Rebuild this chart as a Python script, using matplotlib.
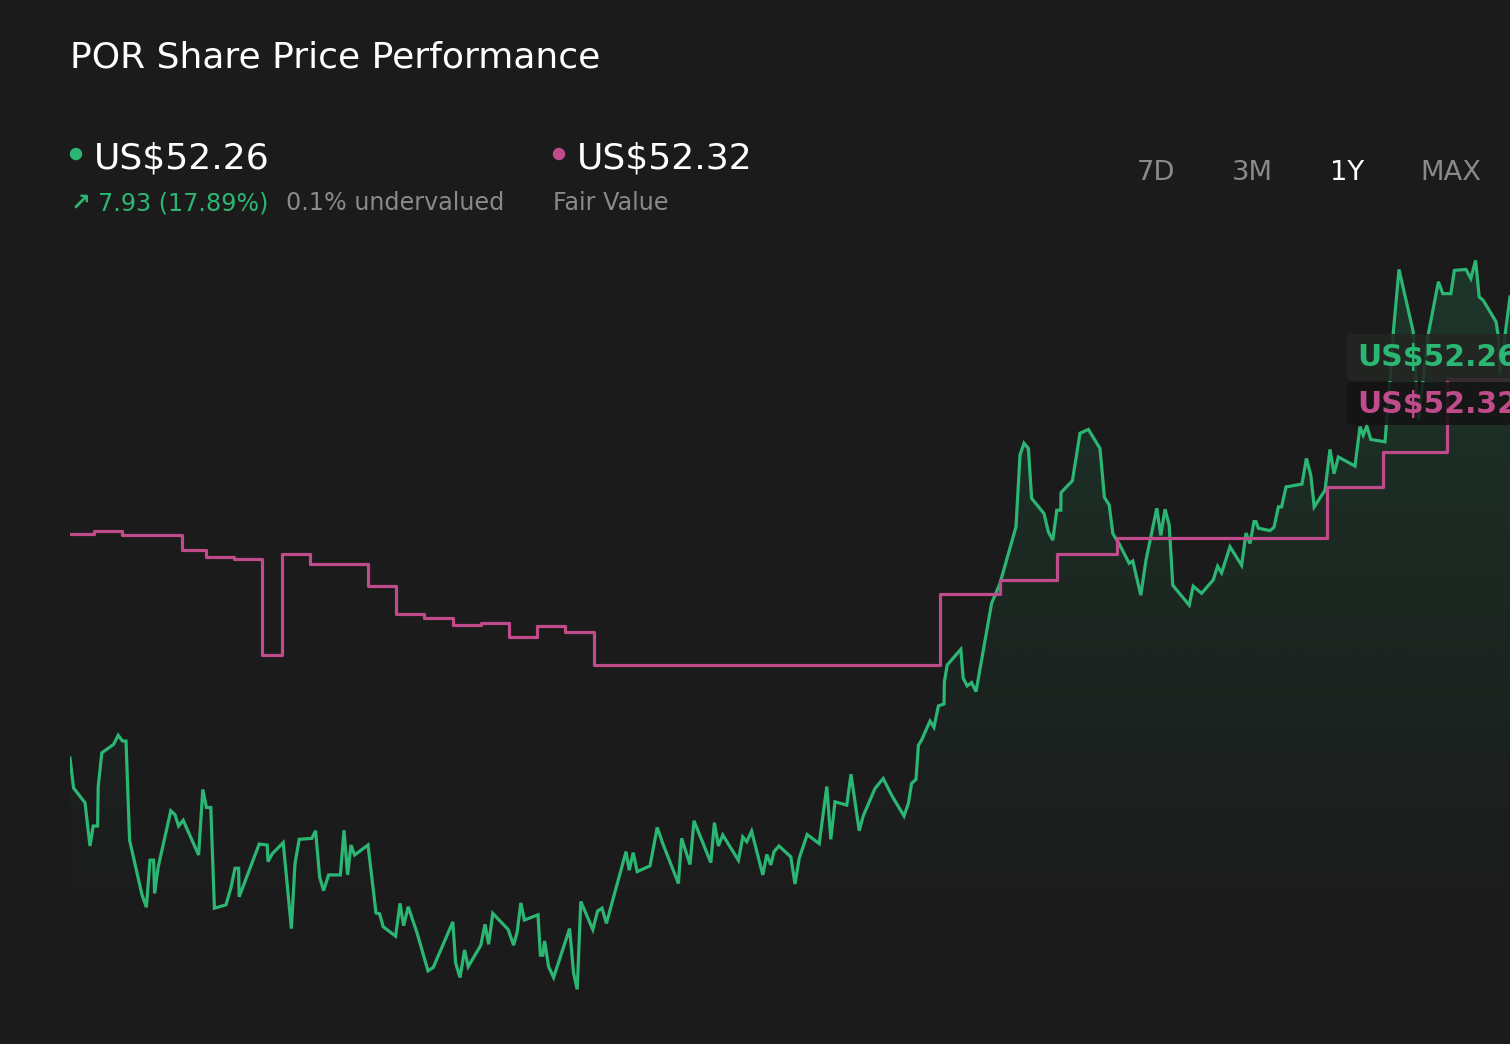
import matplotlib
matplotlib.use("Agg")
import matplotlib.pyplot as plt
import numpy as np
from matplotlib.patches import Circle, FancyBboxPatch

# share price (calendar days from start of the 1Y window, US$)
price_days = [
    0, 0.9, 3.75, 5, 5.8, 6.9, 7.05, 7.95, 10.9, 12.05, 13.1, 14, 14.9, 18, 19.1,
    20, 20.9, 21.15, 22.05, 25.2, 26.25, 27.15, 28.3, 32.15, 33.2, 34.1, 35.2,
    36.1, 39, 40.2, 41.25, 42.15, 42.3, 47.3, 49.3, 49.5, 50.6, 53.3, 55.35,
    56.25, 57.3, 60.45, 61.4, 62.4, 63.4, 64.65, 67.6, 68.5, 69.4, 70.25, 71.15,
    74.5, 76.5, 77.4, 78.3, 81.4, 82.5, 83.4, 84.55, 86.8, 89.5, 90.8, 95.7,
    96.4, 97.5, 98.65, 99.55, 102.7, 103.75, 104.65, 105.7, 109.55, 110.9,
    111.8, 112.7, 113.6, 117, 117.6, 118.2, 118.65, 119.65, 120.9, 124.9,
    125.9, 126.8, 127.7, 130.7, 131.9, 133, 134.1, 139, 139.8, 140.8, 141.8,
    145, 146.8, 148.2, 152.1, 152.9, 155, 156, 160.2, 161.1, 162.1, 163.2,
    167.1, 168.2, 169.2, 170.4, 173.2, 174.2, 175.2, 176, 177.25, 180.2,
    181.25, 182.3, 184.3, 187.3, 189.2, 190.2, 191.25, 194.2, 195.25, 197.3,
    198.3, 201.25, 203.3, 205.4, 208.5, 209.6, 210.4, 211.5, 212.1, 212.9,
    215, 216, 217.1, 218.5, 218.6, 219.3, 222.7, 223.3, 224.3, 225.4, 226.5,
    230.4, 232.5, 236.5, 237.5, 238.5, 239.6, 240.4, 243.5, 244.6, 245.7,
    246.7, 247.7, 247.75, 250.6, 252.5, 254.6, 257.5, 258.6, 259.8, 260.7,
    262.5, 264.8, 265.7, 267.7, 269, 271.7, 272.7, 273.75, 274.8, 275.7,
    279.8, 280.8, 282.9, 285.8, 286.9, 287.9, 290, 292.9, 294, 295, 296,
    296.5, 297.1, 300, 301, 302.1, 302.9, 304, 308, 309.1, 310.2, 311.05,
    313.75, 315, 316, 317.1, 321.25, 322.5, 323.3, 324.2, 325.2, 328.75, 330,
    330.8, 332.25, 335.8, 337.1, 339.6, 342.1, 343.2, 345.2, 346.1, 349,
    350.2, 351.4, 352.3, 353.3, 356.5, 357.1, 357.5, 360,
]
price_values = [
    44.33, 43.70, 43.39, 42.48, 42.90, 42.90, 43.73, 44.44, 44.62, 44.81,
    44.69, 44.69, 42.60, 41.45, 41.19, 42.18, 42.18, 41.48, 42.04, 43.22,
    43.14, 42.90, 43.02, 42.29, 43.67, 43.29, 43.29, 41.17, 41.24, 41.59,
    42.01, 42.01, 41.41, 42.52, 42.50, 42.15, 42.32, 42.55, 40.74, 42.11,
    42.62, 42.64, 42.80, 41.83, 41.54, 41.87, 41.87, 42.81, 41.87, 42.50,
    42.29, 42.50, 41.07, 41.05, 40.78, 40.58, 41.27, 40.80, 41.20, 40.64,
    39.85, 39.92, 40.88, 40.02, 39.71, 40.29, 39.94, 40.39, 40.83, 40.41,
    41.06, 40.72, 40.39, 40.67, 41.28, 40.92, 41.03, 40.18, 40.18, 40.48,
    39.94, 39.71, 40.74, 39.80, 39.46, 41.31, 40.72, 41.11, 41.17, 40.85,
    42.36, 41.97, 42.34, 41.94, 42.06, 42.87, 42.53, 41.69, 42.64, 42.09,
    43.01, 42.13, 42.97, 42.48, 42.71, 42.18, 42.67, 42.57, 42.79, 41.87,
    42.30, 42.08, 42.36, 42.48, 42.25, 41.68, 42.22, 42.72, 42.53, 43.73,
    42.62, 43.41, 43.34, 43.99, 42.80, 43.11, 43.69, 43.90, 43.55, 43.11,
    43.38, 43.80, 43.88, 44.60, 44.71, 45.11, 44.98, 45.43, 45.47, 45.94,
    46.29, 46.62, 46.01, 45.85, 45.92, 45.73, 47.59, 48.01, 49.20, 50.71,
    50.96, 50.85, 49.80, 49.48, 49.09, 48.92, 49.55, 49.55, 49.92, 50.17,
    51.17, 51.25, 50.85, 49.82, 49.66, 49.06, 48.81, 48.43, 48.48, 47.76,
    48.50, 49.59, 49.02, 49.57, 49.24, 47.97, 47.55, 47.95, 47.80, 48.08,
    48.37, 48.23, 48.78, 48.39, 49.07, 48.85, 49.31, 49.31, 49.17, 49.12,
    49.19, 49.62, 49.62, 50.04, 50.10, 50.64, 50.29, 49.62, 49.97, 50.83,
    50.32, 50.67, 50.48, 51.31, 51.13, 51.32, 51.04, 50.99, 52.29, 53.27,
    54.62, 53.31, 51.45, 53.27, 54.36, 54.11, 54.11, 54.60, 54.62, 54.43,
    54.81, 54.04, 53.97, 53.52, 53.20, 52.43, 54.04,
]

# fair value estimate (step changes)
fv_days = [0, 6, 13, 28, 34, 41, 48, 53, 60, 74.5, 81.5, 88.5, 95.75, 102.75,
           109.75, 116.75, 123.75, 131, 217.5, 232.5, 246.7, 261.7, 314.2,
           328.3, 344.2, 360]
fv_values = [49.04, 49.12, 49.02, 48.72, 48.56, 48.52, 46.51, 48.62, 48.41,
             47.96, 47.36, 47.27, 47.14, 47.18, 46.88, 47.12, 46.98, 46.30,
             47.78, 48.08, 48.62, 48.97, 50.03, 50.77, 52.32, 52.32]

last_price = "US$52.26"
fair_value = "US$52.32"
change_text = "7.93 (17.89%)"
valuation_text = "0.1% undervalued"
ranges = ["7D", "3M", "1Y", "MAX"]
active_range = "1Y"

BG = "#1b1b1b"
GREEN = "#2bb673"
PINK = "#c04b8a"
GREY = "#8a8a8a"
W, H = 1510, 1044


def fx(x):
    return x / W


def fy(y):
    return 1 - y / H


fig = plt.figure(figsize=(W / 100, H / 100), dpi=100, facecolor=BG)
ax = fig.add_axes([fx(70), 0, fx(1440), (H - 230) / H])
ax.set_facecolor("none")
ax.axis("off")
ymin, ymax = 38.31, 55.45
ax.set_xlim(0, 360)
ax.set_ylim(ymin, ymax)

# gradient fill under the price line, fading out towards the bottom
poly = ax.fill_between(price_days, price_values, ymin, facecolor="none",
                       edgecolor="none")
levels = np.linspace(ymin, ymax, 256)
alpha = np.clip((levels - 40.7) / (54.5 - 40.7), 0, 1) ** 1.1 * 0.17
grad = np.zeros((256, 4, 4))
grad[..., :3] = matplotlib.colors.to_rgb(GREEN)
grad[..., 3] = alpha[:, None]
im = ax.imshow(grad, extent=[0, 360, ymin, ymax], origin="lower",
               aspect="auto", zorder=1, interpolation="bilinear")
im.set_clip_path(poly.get_paths()[0], poly.get_transform())

ax.plot(price_days, price_values, color=GREEN, lw=2.3, zorder=3,
        solid_joinstyle="miter")
ax.step(fv_days, fv_values, where="post", color=PINK, lw=2.3, zorder=4)

# header
fig.text(fx(70), fy(68), "POR Share Price Performance", color="white",
         fontsize=26, va="baseline")
fig.add_artist(Circle((76 / 100, (H - 154) / 100), 0.055, color=GREEN,
                      transform=fig.dpi_scale_trans))
fig.add_artist(Circle((559 / 100, (H - 154) / 100), 0.055, color=PINK,
                      transform=fig.dpi_scale_trans))
fig.text(fx(94), fy(169), last_price, color="white", fontsize=26,
         va="baseline")
fig.text(fx(577), fy(169), fair_value, color="white", fontsize=26,
         va="baseline")
fig.text(fx(71), fy(210), "\u2197", color=GREEN, fontsize=17,
         fontweight="bold", va="baseline")
fig.text(fx(98), fy(210), change_text, color=GREEN, fontsize=17.2,
         va="baseline")
fig.text(fx(286), fy(210), valuation_text, color=GREY, fontsize=17.2,
         va="baseline")
fig.text(fx(553), fy(210), "Fair Value", color=GREY, fontsize=17.2,
         va="baseline")

for label, cx in zip(ranges, [1156, 1252, 1347, 1451]):
    fig.text(fx(cx), fy(180), label, fontsize=19.7, ha="center",
             va="baseline",
             color="white" if label == active_range else GREY)

# end-of-line value tags
for (y0, y1), face, txt, col, base in [
    ((334, 381), "#232623", last_price, GREEN, 366),
    ((382, 425), "#141414", fair_value, PINK, 413),
]:
    box = FancyBboxPatch((fx(1347), fy(y1)), fx(200), (y1 - y0) / H,
                         boxstyle="round,pad=0,rounding_size=0.004",
                         transform=fig.transFigure, facecolor=face,
                         edgecolor="none", alpha=0.88, zorder=5)
    fig.add_artist(box)
    fig.text(fx(1357), fy(base), txt, color=col, fontsize=21.5,
             fontweight="bold", va="baseline", zorder=6)

fig.savefig("out.png", dpi=100, facecolor=BG)
